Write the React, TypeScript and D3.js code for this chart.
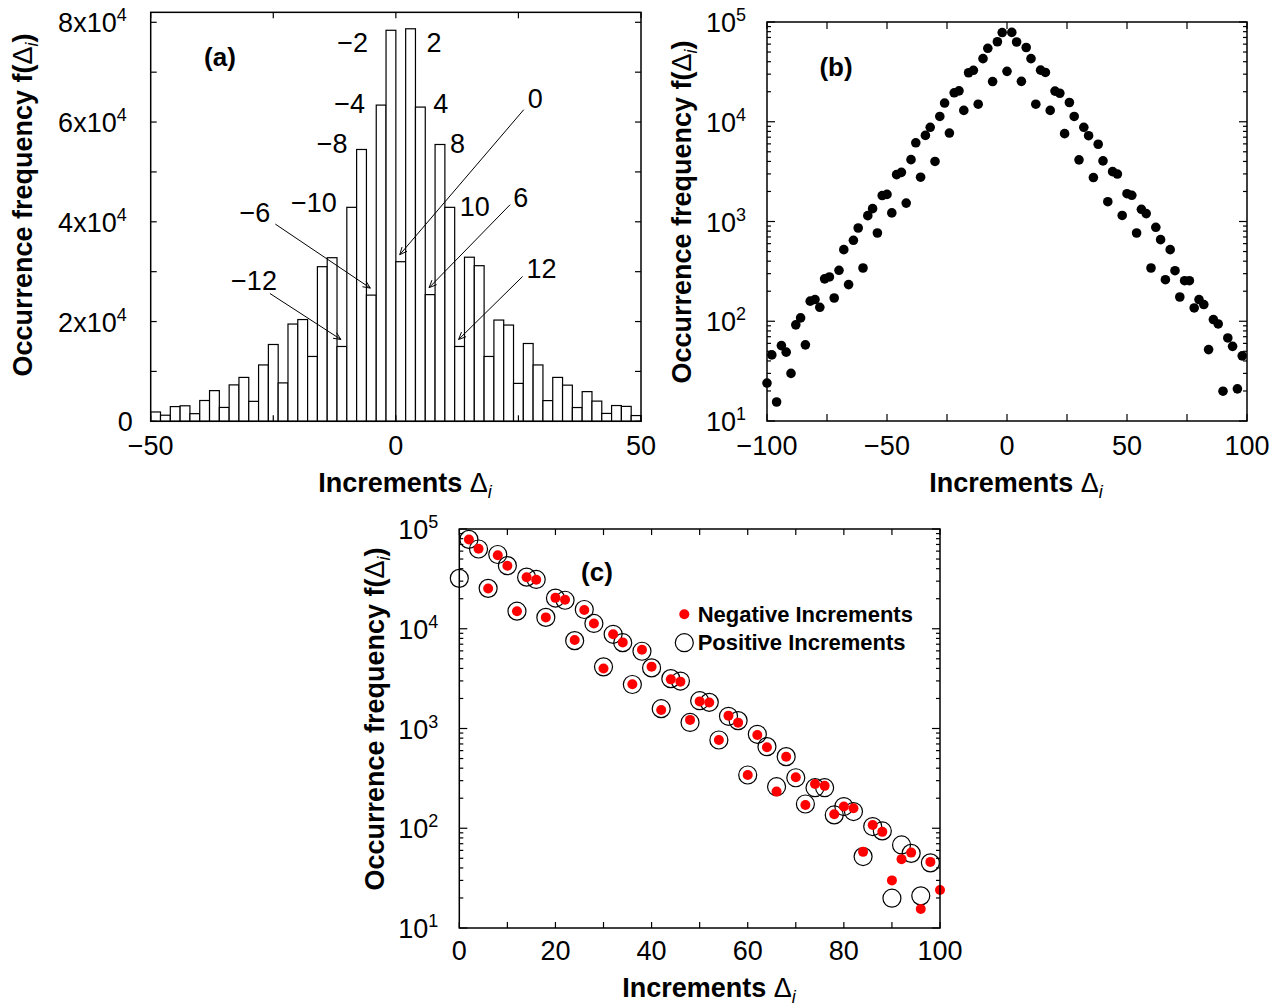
import React from "react";
import * as d3 from "d3";

// |increment| steps and occurrence counts
const posSteps = d3.range(0, 100, 2); // Δ = 0 … 98
const posFreq = [
  32000, 78700, 63000, 25400, 55500, 42900, 15000, 32900, 31200, 13000,
  20300, 19300, 7600, 15600, 11300, 4150, 8800, 7250, 2760, 5950,
  4050, 1580, 3160, 2990, 1150, 1900, 1830, 767, 1325, 1200,
  342, 875, 658, 261, 522, 321, 175, 255, 255, 136,
  165, 147, 52, 104, 94, 19.9, 68, 56, 21, 45,
];
const negSteps = d3.range(2, 102, 2); // Δ = −2 … −100
const negFreq = [
  78400, 63400, 25300, 54500, 42900, 15000, 32800, 31000, 13000, 20400,
  19500, 7700, 15400, 11300, 4000, 8800, 7300, 2780, 6150, 4170,
  1530, 3110, 2950, 1220, 1870, 1820, 767, 1345, 1145, 342,
  861, 648, 233, 522, 324, 171, 278, 266, 138, 165,
  159, 58, 108, 92, 30, 49, 57, 15.5, 46, 24,
];

const histYTicks = [0, 20000, 40000, 60000, 80000];
const histXTicks = [-50, 0, 50];
const wideXTicks = [-100, -50, 0, 50, 100];
const foldXTicks = [0, 20, 40, 60, 80, 100];
const logTicks = [10, 100, 1000, 10000, 100000];
const barNotes = [-12, -10, -8, -6, -4, -2, 0, 2, 4, 6, 8, 10, 12];

const signed = [
  ...negSteps.map((s, i) => ({ d: -s, f: negFreq[i] })),
  ...posSteps.map((s, i) => ({ d: s, f: posFreq[i] })),
].sort((a, b) => a.d - b.d);
const hist = signed.filter((p) => p.d >= -50 && p.d < 50);

const FONT = "'Liberation Sans', Arial, Helvetica, sans-serif";
const FS = 27;
const minus = (v: number) => (v < 0 ? "\u2212" + Math.abs(v) : String(v));

// label offsets relative to the top centre of each annotated bar
const noteLayout: Record<number, { tx: number; ty: number; ax?: number; ay?: number }> = {
  [-2]: { tx: -23, ty: 22 },
  2: { tx: 16, ty: 23 },
  [-4]: { tx: -16, ty: 8 },
  4: { tx: 13, ty: 6 },
  [-8]: { tx: -14, ty: 4 },
  8: { tx: 10, ty: 9 },
  [-10]: { tx: -15, ty: 5 },
  10: { tx: 10, ty: 9 },
  0: { tx: 127, ty: -154, ax: 123, ay: -152 },
  [-6]: { tx: -101, ty: -73, ax: -96, ay: -71 },
  6: { tx: 83, ty: -88, ax: 80, ay: -90 },
  [-12]: { tx: -65, ty: -56, ax: -72, ay: -53 },
  12: { tx: 67, ty: -68, ax: 63, ay: -70 },
};

function Arrow({ x1, y1, x2, y2 }: { x1: number; y1: number; x2: number; y2: number }) {
  const a = Math.atan2(y2 - y1, x2 - x1);
  const L = 8, s = 0.42;
  const p1 = [x2 - L * Math.cos(a - s), y2 - L * Math.sin(a - s)];
  const p2 = [x2 - L * Math.cos(a + s), y2 - L * Math.sin(a + s)];
  return (
    <g stroke="#000" strokeWidth={1} fill="none">
      <line x1={x1} y1={y1} x2={x2} y2={y2} />
      <polyline points={`${p1[0]},${p1[1]} ${x2},${y2} ${p2[0]},${p2[1]}`} />
    </g>
  );
}

function Frame({ x0, x1, y0, y1 }: { x0: number; x1: number; y0: number; y1: number }) {
  return <rect x={x0} y={y1} width={x1 - x0} height={y0 - y1} fill="none" stroke="#000" strokeWidth={1.5} />;
}

function XTicks({ xs, sx, y0, y1, len }: { xs: number[]; sx: (v: number) => number; y0: number; y1: number; len: number }) {
  return (
    <g stroke="#000" strokeWidth={1.2}>
      {xs.map((v) => (
        <g key={v}>
          <line x1={sx(v)} x2={sx(v)} y1={y0} y2={y0 - len} />
          <line x1={sx(v)} x2={sx(v)} y1={y1} y2={y1 + len} />
        </g>
      ))}
    </g>
  );
}

function YTicks({ ys, sy, x0, x1, len }: { ys: number[]; sy: (v: number) => number; x0: number; x1: number; len: number }) {
  return (
    <g stroke="#000" strokeWidth={1.2}>
      {ys.map((v) => (
        <g key={v}>
          <line x1={x0} x2={x0 + len} y1={sy(v)} y2={sy(v)} />
          <line x1={x1} x2={x1 - len} y1={sy(v)} y2={sy(v)} />
        </g>
      ))}
    </g>
  );
}

function LogAxis({ sy, x0, x1 }: { sy: d3.ScaleLogarithmic<number, number>; x0: number; x1: number }) {
  const minors: number[] = [];
  logTicks.slice(0, -1).forEach((t) => d3.range(2, 10).forEach((m) => minors.push(t * m)));
  return (
    <g>
      <YTicks ys={logTicks} sy={sy} x0={x0} x1={x1} len={8} />
      <YTicks ys={minors} sy={sy} x0={x0} x1={x1} len={4} />
      {logTicks.map((t) => (
        <text key={t} x={x0 - 21} y={sy(t) + 10} textAnchor="end" fontSize={FS}>
          10
          <tspan dy={-11} fontSize={18}>
            {Math.round(Math.log10(t))}
          </tspan>
        </text>
      ))}
    </g>
  );
}

function XTitle({ x, y }: { x: number; y: number }) {
  return (
    <text x={x} y={y} textAnchor="middle" fontWeight="bold" fontSize={FS}>
      Increments <tspan fontWeight="normal">Δ</tspan>
      <tspan fontStyle="italic" fontWeight="normal" fontSize={18} dy={6}>
        i
      </tspan>
    </text>
  );
}

function YTitle({ x, y }: { x: number; y: number }) {
  return (
    <text transform={`translate(${x},${y}) rotate(-90)`} textAnchor="middle" fontWeight="bold" fontSize={FS}>
      Occurrence frequency f(<tspan fontWeight="normal">Δ</tspan>
      <tspan fontStyle="italic" fontWeight="normal" fontSize={18} dy={6}>
        i
      </tspan>
      <tspan dy={-6}>)</tspan>
    </text>
  );
}

export default function App() {
  // (a) histogram
  const ax = d3.scaleLinear().domain([-50, 50]).range([150.7, 641]);
  const ay = d3.scaleLinear().domain([0, 80000]).range([421.3, 22.3]);
  const aTop = ay(82000);
  const fOf = (d: number) => signed.find((p) => p.d === d)!.f;

  // (b) full range, log
  const bx = d3.scaleLinear().domain([-100, 100]).range([767, 1247]);
  const by = d3.scaleLog().domain([10, 100000]).range([421, 22]);

  // (c) folded, log
  const cx = d3.scaleLinear().domain([0, 100]).range([459.3, 940]);
  const cy = d3.scaleLog().domain([10, 100000]).range([928, 529]);

  return (
    <svg
      width={1286}
      height={1008}
      style={{ position: "absolute", left: 0, top: 0, background: "#fff" }}
      fontFamily={FONT}
    >
      <rect width={1286} height={1008} fill="#fff" />

      {/* ---------- (a) ---------- */}
      <g>
        {hist.map((p) => (
          <rect
            key={p.d}
            x={ax(p.d)}
            y={ay(p.f)}
            width={ax(p.d + 2) - ax(p.d)}
            height={ay(0) - ay(p.f)}
            fill="#fff"
            stroke="#000"
            strokeWidth={1.2}
          />
        ))}
        <Frame x0={ax(-50)} x1={ax(50)} y0={ay(0)} y1={aTop} />
        <XTicks xs={d3.range(-50, 51, 25)} sx={ax} y0={ay(0)} y1={aTop} len={6} />
        <YTicks ys={d3.range(0, 80001, 10000)} sy={ay} x0={ax(-50)} x1={ax(50)} len={6} />
        {histXTicks.map((v) => (
          <text key={v} x={ax(v)} y={455} textAnchor="middle" fontSize={FS}>
            {minus(v)}
          </text>
        ))}
        {histYTicks.map((v) =>
          v === 0 ? (
            <text key={v} x={ax(-50) - 18} y={ay(v) + 10} textAnchor="end" fontSize={FS}>
              0
            </text>
          ) : (
            <text key={v} x={ax(-50) - 24} y={ay(v) + 10} textAnchor="end" fontSize={FS}>
              {v / 10000}x10
              <tspan dy={-11} fontSize={18}>
                4
              </tspan>
            </text>
          )
        )}
        {barNotes.map((d) => {
          const L = noteLayout[d];
          const c = ax(d + 1);
          const t = ay(fOf(d));
          return (
            <g key={d}>
              <text x={c + L.tx} y={t + L.ty} textAnchor={d < 0 ? "end" : "start"} fontSize={FS}>
                {minus(d)}
              </text>
              {L.ax !== undefined && <Arrow x1={c + L.ax} y1={t + L.ay!} x2={c - 1} y2={t - 7} />}
            </g>
          );
        })}
        <text x={220} y={66} textAnchor="middle" fontWeight="bold" fontSize={26}>
          (a)
        </text>
        <XTitle x={405} y={492} />
        <YTitle x={32} y={205} />
      </g>

      {/* ---------- (b) ---------- */}
      <g>
        {signed.map((p) => (
          <circle key={p.d} cx={bx(p.d)} cy={by(p.f)} r={4.8} fill="#000" />
        ))}
        <Frame x0={bx(-100)} x1={bx(100)} y0={by(10)} y1={by(100000)} />
        <XTicks xs={d3.range(-100, 101, 25)} sx={bx} y0={by(10)} y1={by(100000)} len={7} />
        <LogAxis sy={by} x0={bx(-100)} x1={bx(100)} />
        {wideXTicks.map((v) => (
          <text key={v} x={bx(v)} y={455} textAnchor="middle" fontSize={FS}>
            {minus(v)}
          </text>
        ))}
        <text x={836} y={76} textAnchor="middle" fontWeight="bold" fontSize={26}>
          (b)
        </text>
        <XTitle x={1016} y={492} />
        <YTitle x={691} y={212} />
      </g>

      {/* ---------- (c) ---------- */}
      <g>
        {posSteps.map((s, i) => (
          <circle key={"p" + s} cx={cx(s)} cy={cy(posFreq[i])} r={9} fill="none" stroke="#000" strokeWidth={1.2} />
        ))}
        {negSteps.map((s, i) => (
          <circle key={"n" + s} cx={cx(s)} cy={cy(negFreq[i])} r={5} fill="#ff0000" />
        ))}
        <Frame x0={cx(0)} x1={cx(100)} y0={cy(10)} y1={cy(100000)} />
        <XTicks xs={d3.range(0, 101, 10)} sx={cx} y0={cy(10)} y1={cy(100000)} len={6} />
        <LogAxis sy={cy} x0={cx(0)} x1={cx(100)} />
        {foldXTicks.map((v) => (
          <text key={v} x={cx(v)} y={960} textAnchor="middle" fontSize={FS}>
            {v}
          </text>
        ))}
        <text x={597} y={581} textAnchor="middle" fontWeight="bold" fontSize={26}>
          (c)
        </text>
        <circle cx={684.3} cy={614.3} r={5} fill="#ff0000" />
        <text x={697.7} y={622} fontWeight="bold" fontSize={22}>
          Negative Increments
        </text>
        <circle cx={684.3} cy={642.7} r={9} fill="none" stroke="#000" strokeWidth={1.2} />
        <text x={697.7} y={650} fontWeight="bold" fontSize={22}>
          Positive Increments
        </text>
        <XTitle x={709} y={997} />
        <YTitle x={384} y={719} />
      </g>
    </svg>
  );
}
